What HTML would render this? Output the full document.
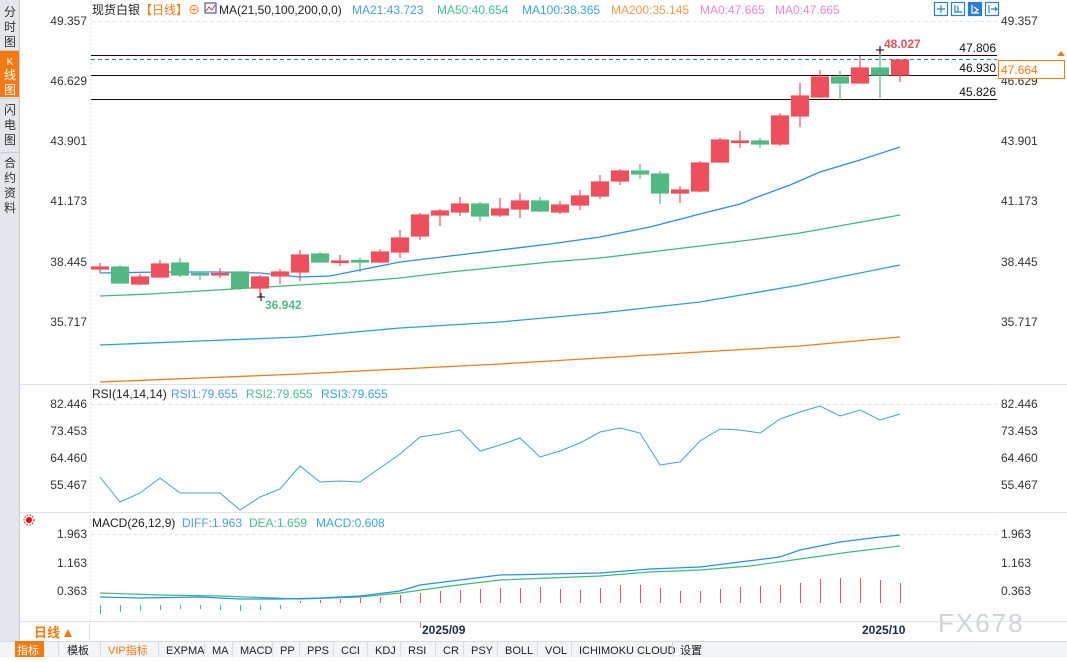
<!DOCTYPE html>
<html><head><meta charset="utf-8"><style>
body{margin:0;width:1067px;height:657px;overflow:hidden;background:#fff;font-family:"Liberation Sans","Noto Sans CJK SC",sans-serif}
svg text{font-family:"Liberation Sans","Noto Sans CJK SC",sans-serif}
</style></head><body>
<svg width="1067" height="657" viewBox="0 0 1067 657" xmlns="http://www.w3.org/2000/svg">
<rect width="1067" height="657" fill="#fff"/>
<rect x="0" y="0" width="19" height="657" fill="#e4e6ec"/>
<line x1="19.5" y1="0" x2="19.5" y2="641" stroke="#c9ccd4"/>
<rect x="0" y="51" width="19" height="46" fill="#f47a10"/>
<g font-size="12" fill="#333" text-anchor="middle">
<text x="10" y="16">分</text><text x="10" y="31">时</text><text x="10" y="46">图</text>
<text x="10" y="65" fill="#fff" font-size="10">K</text><text x="10" y="79" fill="#fff">线</text><text x="10" y="94" fill="#fff">图</text>
<text x="10" y="114">闪</text><text x="10" y="129">电</text><text x="10" y="144">图</text>
<text x="10" y="167">合</text><text x="10" y="182">约</text><text x="10" y="197">资</text><text x="10" y="212">料</text>
</g>
<line x1="0" y1="50.5" x2="19" y2="50.5" stroke="#c9ccd4"/><line x1="0" y1="98.5" x2="19" y2="98.5" stroke="#c9ccd4"/><line x1="0" y1="152.5" x2="19" y2="152.5" stroke="#c9ccd4"/>
<line x1="90.5" y1="15" x2="90.5" y2="621" stroke="#d8dbe0" stroke-dasharray="1,3"/>
<line x1="20" y1="384.5" x2="1067" y2="384.5" stroke="#dfe3e8"/>
<line x1="20" y1="512.5" x2="1067" y2="512.5" stroke="#dfe3e8"/>
<line x1="20" y1="621.5" x2="1067" y2="621.5" stroke="#dfe3e8"/>
<line x1="89.5" y1="621" x2="89.5" y2="641" stroke="#dfe3e8"/>
<line x1="997.5" y1="15" x2="997.5" y2="621" stroke="#e6e8ec" stroke-dasharray="1,3"/>
<line x1="91" y1="21.5" x2="997" y2="21.5" stroke="#e4e4e4" stroke-dasharray="4,3"/>
<line x1="91" y1="404.5" x2="997" y2="404.5" stroke="#e4e4e4" stroke-dasharray="4,3"/>
<line x1="91" y1="534.5" x2="997" y2="534.5" stroke="#e4e4e4" stroke-dasharray="4,3"/>
<g font-size="12">
<text x="92" y="14" fill="#222">现货白银<tspan fill="#f47a10">【日线】</tspan></text>
<text x="188" y="14" fill="#f47a10">⊕</text>
<rect x="205" y="3" width="11" height="10" fill="#fff" stroke="#1d3e8a"/>
<polyline points="206,11 209,7 212,10 215,5" fill="none" stroke="#d33" stroke-width="1"/>
<text x="219" y="14" fill="#222">MA(21,50,100,200,0,0)</text>
<text x="352" y="14" fill="#4a9af0">MA21:43.723</text>
<text x="437" y="14" fill="#45c08a">MA50:40.654</text>
<text x="522" y="14" fill="#3aa3e0">MA100:38.365</text>
<text x="611" y="14" fill="#f09a50">MA200:35.145</text>
<text x="700" y="14" fill="#e88acb">MA0:47.665</text>
<text x="775" y="14" fill="#e88acb">MA0:47.665</text>
</g>
<g fill="none" stroke="#2a7fd4" stroke-width="1.2">
<rect x="934.5" y="2.5" width="13" height="13"/><rect x="951.5" y="2.5" width="13" height="13"/><rect x="968.5" y="2.5" width="13" height="13" fill="#2a7fd4"/><rect x="985.5" y="2.5" width="13" height="13"/>
<path d="M941 5v8M937 9h8"/><path d="M955 5v8M955 12h7M958 6v6"/><path d="M972 5v8h7M974 7l4 3-4 3" stroke="#fff"/><path d="M989 5v8M991 9h6M995 7l2 2-2 2"/>
</g>
<g font-size="12" fill="#333">
<g text-anchor="end">
<text x="87" y="25">49.357</text><text x="87" y="85">46.629</text><text x="87" y="145">43.901</text><text x="87" y="205">41.173</text><text x="87" y="266">38.445</text><text x="87" y="326">35.717</text>
<text x="87" y="408">82.446</text><text x="87" y="435">73.453</text><text x="87" y="462">64.460</text><text x="87" y="489">55.467</text>
<text x="87" y="538">1.963</text><text x="87" y="567">1.163</text><text x="87" y="595">0.363</text>
</g>
<text x="1001" y="25">49.357</text><text x="1001" y="85">46.629</text><text x="1001" y="145">43.901</text><text x="1001" y="205">41.173</text><text x="1001" y="266">38.445</text><text x="1001" y="326">35.717</text>
<text x="1001" y="408">82.446</text><text x="1001" y="435">73.453</text><text x="1001" y="462">64.460</text><text x="1001" y="489">55.467</text>
<text x="1001" y="538">1.963</text><text x="1001" y="567">1.163</text><text x="1001" y="595">0.363</text>
</g>
<g stroke="#2a0000" stroke-width="1">
<line x1="91" y1="55.5" x2="997" y2="55.5"/><line x1="91" y1="75.5" x2="997" y2="75.5"/><line x1="91" y1="99.5" x2="997" y2="99.5"/>
</g>
<line x1="91" y1="59.5" x2="997" y2="59.5" stroke="#2a7fd4" stroke-dasharray="4,3"/>
<g font-size="12" fill="#111" text-anchor="end">
<text x="996" y="52">47.806</text><text x="996" y="72">46.930</text><text x="996" y="96">45.826</text>
</g>
<rect x="998.5" y="60.5" width="66" height="18" fill="#fff" stroke="#f47a10"/>
<text x="1001" y="74" font-size="12" fill="#f47a10">47.664</text>
<path d="M1057 56l4-5 4 5z" fill="#f47a10"/>
<g fill="none" stroke-width="1.3">
<polyline stroke="#2d8cf0" points="100,273 160,272 220,272 260,273 300,277 330,276 360,270 400,262 450,256 500,250 550,244 600,237 650,227 700,214 740,204 760,196 790,185 820,172 860,160 900,147"/>
<polyline stroke="#3cba7a" points="100,296 150,294 200,291 250,288 300,285 350,282 400,278 450,272 500,267 550,262 600,258 650,252 700,246 750,240 800,233 850,224 900,215"/>
<polyline stroke="#2a9fd8" points="100,345 200,341 300,337 400,328 500,322 600,313 700,302 800,285 900,265"/>
<polyline stroke="#f07a20" points="100,382 200,378 300,374 400,369 500,364 600,358 700,352 800,346 900,337"/>
</g>
<g stroke-width="1.2">
<g stroke="#ed4f5d" fill="#ed4f5d">
<line x1="100" y1="263" x2="100" y2="273"/><rect x="91.5" y="267" width="17" height="2"/>
<line x1="140" y1="274" x2="140" y2="285"/><rect x="131.5" y="277" width="17" height="7"/>
<line x1="160" y1="260" x2="160" y2="277"/><rect x="151.5" y="264" width="17" height="13"/>
<line x1="220" y1="268" x2="220" y2="278"/><rect x="211.5" y="273.5" width="17" height="1.5"/>
<line x1="260" y1="275" x2="260" y2="297"/><rect x="251.5" y="277" width="17" height="11"/>
<line x1="280" y1="269" x2="280" y2="284"/><rect x="271.5" y="272" width="17" height="4"/>
<line x1="300" y1="250" x2="300" y2="281"/><rect x="291.5" y="255" width="17" height="17"/>
<line x1="340" y1="255" x2="340" y2="266"/><rect x="331.5" y="261" width="17" height="1.5"/>
<line x1="380" y1="249" x2="380" y2="263"/><rect x="371.5" y="252" width="17" height="10"/>
<line x1="400" y1="230" x2="400" y2="258"/><rect x="391.5" y="238" width="17" height="14"/>
<line x1="420" y1="213" x2="420" y2="240"/><rect x="411.5" y="215" width="17" height="21"/>
<line x1="440" y1="209" x2="440" y2="226"/><rect x="431.5" y="211" width="17" height="4"/>
<line x1="460" y1="197" x2="460" y2="216"/><rect x="451.5" y="204" width="17" height="8"/>
<line x1="500" y1="198" x2="500" y2="217"/><rect x="491.5" y="209" width="17" height="6"/>
<line x1="520" y1="193" x2="520" y2="218"/><rect x="511.5" y="201" width="17" height="8"/>
<line x1="560" y1="201" x2="560" y2="214"/><rect x="551.5" y="205" width="17" height="7"/>
<line x1="580" y1="190" x2="580" y2="210"/><rect x="571.5" y="196" width="17" height="9"/>
<line x1="600" y1="175" x2="600" y2="199"/><rect x="591.5" y="182" width="17" height="14"/>
<line x1="620" y1="169" x2="620" y2="185"/><rect x="611.5" y="171" width="17" height="10"/>
<line x1="680" y1="186" x2="680" y2="203"/><rect x="671.5" y="190" width="17" height="3"/>
<line x1="700" y1="161" x2="700" y2="192"/><rect x="691.5" y="163" width="17" height="28"/>
<line x1="720" y1="138" x2="720" y2="163"/><rect x="711.5" y="140" width="17" height="22"/>
<line x1="740" y1="131" x2="740" y2="148"/><rect x="731.5" y="141" width="17" height="1.5"/>
<line x1="780" y1="113" x2="780" y2="146"/><rect x="771.5" y="116" width="17" height="28"/>
<line x1="800" y1="83" x2="800" y2="127"/><rect x="791.5" y="96" width="17" height="20"/>
<line x1="820" y1="70" x2="820" y2="98"/><rect x="811.5" y="77" width="17" height="20"/>
<line x1="860" y1="56" x2="860" y2="83"/><rect x="851.5" y="68" width="17" height="15"/>
<line x1="900" y1="60" x2="900" y2="82"/><rect x="891.5" y="60" width="17" height="15"/>
</g>
<g stroke="#52b985" fill="#52b985">
<line x1="120" y1="265" x2="120" y2="284"/><rect x="111.5" y="267" width="17" height="16"/>
<line x1="180" y1="258" x2="180" y2="277"/><rect x="171.5" y="263" width="17" height="12"/>
<line x1="200" y1="272" x2="200" y2="280"/><rect x="191.5" y="273.5" width="17" height="1.5"/>
<line x1="240" y1="271" x2="240" y2="290"/><rect x="231.5" y="272" width="17" height="16"/>
<line x1="320" y1="252" x2="320" y2="263"/><rect x="311.5" y="254" width="17" height="8"/>
<line x1="360" y1="258" x2="360" y2="272"/><rect x="351.5" y="260.5" width="17" height="1.5"/>
<line x1="480" y1="202" x2="480" y2="221"/><rect x="471.5" y="204" width="17" height="12"/>
<line x1="540" y1="197" x2="540" y2="212"/><rect x="531.5" y="201" width="17" height="10"/>
<line x1="640" y1="164" x2="640" y2="179"/><rect x="631.5" y="171" width="17" height="3"/>
<line x1="660" y1="171" x2="660" y2="204"/><rect x="651.5" y="174" width="17" height="19"/>
<line x1="760" y1="138" x2="760" y2="148"/><rect x="751.5" y="141" width="17" height="3"/>
<line x1="840" y1="71" x2="840" y2="100"/><rect x="831.5" y="77" width="17" height="6"/>
<line x1="880" y1="50" x2="880" y2="98"/><rect x="871.5" y="68" width="17" height="7"/>
</g>
</g>
<text x="265" y="309" font-size="12" fill="#52b985" font-weight="bold">36.942</text>
<path d="M257 297h8M261 293v8" stroke="#000"/>
<text x="884" y="48" font-size="12" fill="#ed4f5d" font-weight="bold">48.027</text>
<path d="M876 50h8M880 46v8" stroke="#000"/>
<text x="92" y="398" font-size="12" fill="#222">RSI(14,14,14)</text>
<text x="171" y="398" font-size="12" fill="#4a9af0">RSI1:79.655</text>
<text x="246" y="398" font-size="12" fill="#45c08a">RSI2:79.655</text>
<text x="321" y="398" font-size="12" fill="#3aa3e0">RSI3:79.655</text>
<polyline fill="none" stroke="#3aa3e0" stroke-width="1" points="100,477 120,502 140,493 160,478 180,493 200,493 220,493 240,510 260,497 280,489 300,466 320,482 340,481 360,482 380,468 400,454 420,437 440,434 460,430 480,451 500,445 520,438 540,457 560,451 580,443 600,432 620,428 640,433 660,465 680,462 700,441 720,429 740,430 760,433 780,419 800,412 820,406 840,416 860,410 880,420 900,414"/>
<circle cx="29" cy="520" r="3" fill="#e00"/><circle cx="29" cy="520" r="5" fill="none" stroke="#e00" stroke-dasharray="1.5,1.5"/>
<text x="92" y="527" font-size="12" fill="#222">MACD(26,12,9)</text>
<text x="182" y="527" font-size="12" fill="#4a9af0">DIFF:1.963</text>
<text x="249" y="527" font-size="12" fill="#45c08a">DEA:1.659</text>
<text x="316" y="527" font-size="12" fill="#3aa3e0">MACD:0.608</text>
<g stroke="#52b985" stroke-width="1">
<path d="M100.5 605v9M120.5 605v7M140.5 605v6M160.5 605v5M180.5 605v4M200.5 605v4M220.5 605v5M240.5 605v6M260.5 605v5M280.5 605v4"/>
</g>
<g stroke="#ed4f5d" stroke-width="1">
<path d="M300.5 603v-2M320.5 603v-3M340.5 603v-4M360.5 603v-5M380.5 603v-6M400.5 603v-8M420.5 603v-10M440.5 603v-12M460.5 603v-13M480.5 603v-14M500.5 603v-15M520.5 603v-15M540.5 603v-16M560.5 603v-14M580.5 603v-13M600.5 603v-15M620.5 603v-18M640.5 603v-18M660.5 603v-15M680.5 603v-12M700.5 603v-12M720.5 603v-14M740.5 603v-16M760.5 603v-17M780.5 603v-18M800.5 603v-20M820.5 603v-24M840.5 603v-25M860.5 603v-25M880.5 603v-23M900.5 603v-20"/>
</g>
<polyline fill="none" stroke="#3cba7a" stroke-width="1.2" points="100,593 160,595 220,596 300,599 360,597 400,593 450,586 500,580 550,578 600,576 650,572 700,570 750,566 800,559 850,552 900,546"/>
<polyline fill="none" stroke="#2d8cf0" stroke-width="1.2" points="100,597 140,598 200,597 240,599 280,599 320,598 360,596 400,591 420,585 460,580 500,575 550,574 600,573 650,569 700,567 740,562 780,557 800,550 840,542 880,537 900,535"/>
<text x="34" y="637" font-size="13" fill="#f47a10" font-weight="bold">日线</text>
<path d="M64 637l4-8 4 8z" fill="#f47a10"/>
<text x="422" y="634" font-size="12" fill="#1a2a44" font-weight="bold">2025/09</text>
<text x="862" y="634" font-size="12" fill="#1a2a44" font-weight="bold">2025/10</text>
<line x1="420.5" y1="622" x2="420.5" y2="628" stroke="#999"/>
<text x="938" y="632" font-size="26" fill="#d0d3d8" letter-spacing="2">FX678</text>
<rect x="0" y="641" width="1067" height="16" fill="#f3f4f6"/>
<line x1="0" y1="641.5" x2="1067" y2="641.5" stroke="#d8dbe0"/>
<rect x="15" y="641" width="29" height="16" fill="#f47a10"/>
<g font-size="11" fill="#222">
<text x="17" y="654" fill="#fff">指标</text>
<text x="67" y="654">模板</text>
<text x="108" y="654" fill="#f47a10">VIP指标</text>
<text x="166" y="654">EXPMA</text><text x="212" y="654">MA</text><text x="240" y="654">MACD</text><text x="280" y="654">PP</text><text x="307" y="654">PPS</text><text x="341" y="654">CCI</text><text x="375" y="654">KDJ</text><text x="408" y="654">RSI</text><text x="443" y="654">CR</text><text x="471" y="654">PSY</text><text x="505" y="654">BOLL</text><text x="545" y="654">VOL</text><text x="579" y="654">ICHIMOKU CLOUD</text><text x="680" y="654">设置</text>
</g>
<g stroke="#d8dbe0"><line x1="58.5" y1="642" x2="58.5" y2="657"/><line x1="100.5" y1="642" x2="100.5" y2="657"/><line x1="158.5" y1="642" x2="158.5" y2="657"/><line x1="204.5" y1="642" x2="204.5" y2="657"/><line x1="232.5" y1="642" x2="232.5" y2="657"/><line x1="272.5" y1="642" x2="272.5" y2="657"/><line x1="299.5" y1="642" x2="299.5" y2="657"/><line x1="333.5" y1="642" x2="333.5" y2="657"/><line x1="367.5" y1="642" x2="367.5" y2="657"/><line x1="400.5" y1="642" x2="400.5" y2="657"/><line x1="435.5" y1="642" x2="435.5" y2="657"/><line x1="463.5" y1="642" x2="463.5" y2="657"/><line x1="497.5" y1="642" x2="497.5" y2="657"/><line x1="537.5" y1="642" x2="537.5" y2="657"/><line x1="571.5" y1="642" x2="571.5" y2="657"/><line x1="672.5" y1="642" x2="672.5" y2="657"/></g>
</svg>
</body></html>
